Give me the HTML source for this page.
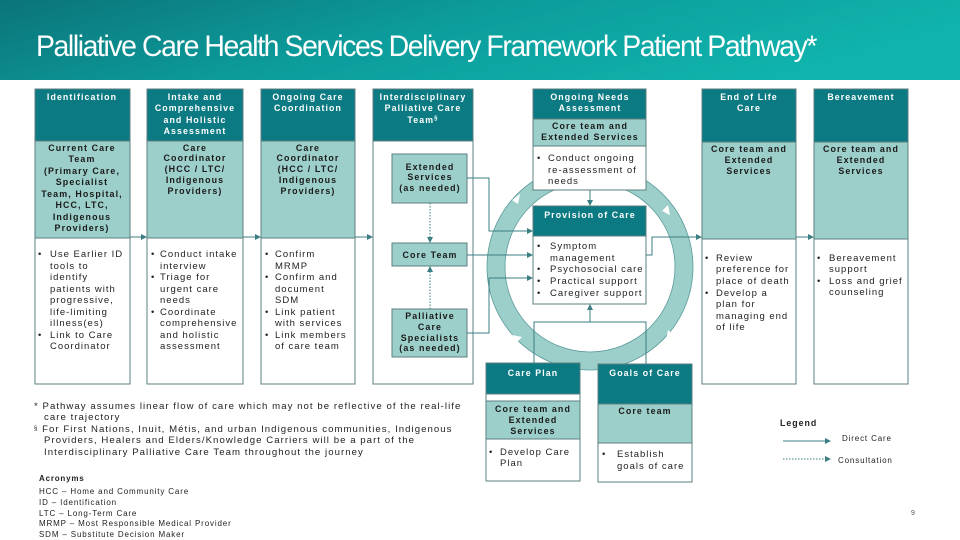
<!DOCTYPE html>
<html><head><meta charset="utf-8"><style>
html,body{margin:0;padding:0;width:960px;height:540px;overflow:hidden;background:#fff}
svg{display:block}
text{font-family:"Liberation Sans",Arial,sans-serif}
.h{fill:#fff;font-weight:bold;font-size:8.8px;letter-spacing:1.1px;text-anchor:middle}
.m{fill:#1a1a1a;font-weight:bold;font-size:8.9px;letter-spacing:1.1px;text-anchor:middle}
.b{fill:#222;font-size:9.5px;letter-spacing:1px}
.f{fill:#222;font-size:9.6px;letter-spacing:1.05px}
.a{fill:#222;font-size:8px;letter-spacing:0.85px}
</style></head><body>
<svg width="960" height="540" viewBox="0 0 960 540" xmlns="http://www.w3.org/2000/svg">
<defs>
<linearGradient id="g" x1="0" y1="0" x2="1" y2="0.3">
<stop offset="0" stop-color="#0b7479"/><stop offset="0.5" stop-color="#0c9c9c"/><stop offset="1" stop-color="#10b3ad"/>
</linearGradient>
<marker id="ar" markerWidth="6" markerHeight="6" refX="5" refY="3" orient="auto" markerUnits="userSpaceOnUse">
<path d="M0,0 L6,3 L0,6 z" fill="#3b7f84"/></marker>
</defs>
<rect x="0" y="0" width="960" height="80" fill="url(#g)"/>
<text x="36" y="56" fill="#fff" font-size="30" textLength="780" lengthAdjust="spacingAndGlyphs" style="letter-spacing:-1.5px">Palliative Care Health Services Delivery Framework Patient Pathway*</text>

<!-- ring -->
<circle cx="590" cy="267" r="94" fill="none" stroke="#9ccfc9" stroke-width="18"/>
<circle cx="590" cy="267" r="103" fill="none" stroke="#5a9a9a" stroke-width="0.8"/>
<circle cx="590" cy="267" r="85" fill="none" stroke="#5a9a9a" stroke-width="0.8"/>
<g fill="#fff">
<path d="M512,200 l8,-6 l-2,10 z"/><path d="M668,205 l2,10 l-8,-4 z"/>
<path d="M668,330 l-2,10 l8,-5 z"/><path d="M512,335 l10,2 l-6,6 z"/>
</g>

<g stroke="#5d7f80" stroke-width="1">
<rect x="35" y="89" width="95" height="52" fill="#0b7a82"/>
<rect x="35" y="141" width="95" height="97" fill="#9ccfc9"/>
<rect x="35" y="238" width="95" height="146" fill="#fff"/>
<rect x="147" y="89" width="96" height="52" fill="#0b7a82"/>
<rect x="147" y="141" width="96" height="97" fill="#9ccfc9"/>
<rect x="147" y="238" width="96" height="146" fill="#fff"/>
<rect x="261" y="89" width="94" height="52" fill="#0b7a82"/>
<rect x="261" y="141" width="94" height="97" fill="#9ccfc9"/>
<rect x="261" y="238" width="94" height="146" fill="#fff"/>
<rect x="373" y="89" width="100" height="52" fill="#0b7a82"/>
<rect x="373" y="141" width="100" height="243" fill="#fff"/>
<rect x="392" y="154" width="75" height="49" fill="#9ccfc9"/>
<rect x="392" y="243" width="75" height="23" fill="#9ccfc9"/>
<rect x="392" y="309" width="75" height="48" fill="#9ccfc9"/>
<rect x="533" y="89" width="113" height="30" fill="#0b7a82"/>
<rect x="533" y="119" width="113" height="27" fill="#9ccfc9"/>
<rect x="533" y="146" width="113" height="44" fill="#fff"/>
<rect x="533" y="206" width="113" height="30" fill="#0b7a82"/>
<rect x="533" y="236" width="113" height="68" fill="#fff"/>
<rect x="702" y="89" width="94" height="53" fill="#0b7a82"/>
<rect x="702" y="142" width="94" height="97" fill="#9ccfc9"/>
<rect x="702" y="239" width="94" height="145" fill="#fff"/>
<rect x="814" y="89" width="94" height="53" fill="#0b7a82"/>
<rect x="814" y="142" width="94" height="97" fill="#9ccfc9"/>
<rect x="814" y="239" width="94" height="145" fill="#fff"/>
<rect x="486" y="363" width="94" height="118" fill="#fff"/>
<rect x="486" y="363" width="94" height="31" fill="#0b7a82"/>
<rect x="486" y="401" width="94" height="38" fill="#9ccfc9"/>
<rect x="598" y="364" width="94" height="118" fill="#fff"/>
<rect x="598" y="364" width="94" height="40" fill="#0b7a82"/>
<rect x="598" y="404" width="94" height="39" fill="#9ccfc9"/>
</g>

<g stroke="#3b7f84" stroke-width="1" fill="none">
<line x1="130" y1="237" x2="146" y2="237" marker-end="url(#ar)"/>
<line x1="243" y1="237" x2="260" y2="237" marker-end="url(#ar)"/>
<line x1="355" y1="237" x2="372" y2="237" marker-end="url(#ar)"/>
<polyline points="467,178 489,178 489,231 532,231" marker-end="url(#ar)"/>
<line x1="467" y1="255" x2="532" y2="255" marker-end="url(#ar)"/>
<polyline points="467,333 489,333 489,278 532,278" marker-end="url(#ar)"/>
<polyline points="646,255 652,255 652,237 701,237" marker-end="url(#ar)"/>
<line x1="796" y1="237" x2="813" y2="237" marker-end="url(#ar)"/>
<line x1="590" y1="190" x2="590" y2="205" marker-end="url(#ar)"/>
<polyline points="534,363 534,322 646,322 646,364"/>
<line x1="590" y1="322" x2="590" y2="305" marker-end="url(#ar)"/>
<line x1="783" y1="441" x2="830" y2="441" marker-end="url(#ar)"/>
<line x1="783" y1="459" x2="830" y2="459" stroke-dasharray="1.5,1.5" marker-end="url(#ar)"/>
<line x1="430" y1="203" x2="430" y2="242" stroke-dasharray="1.5,1.5" marker-end="url(#ar)"/>
<line x1="430" y1="309" x2="430" y2="267" stroke-dasharray="1.5,1.5" marker-end="url(#ar)"/>
</g>

<text class="h" x="82" y="100">Identification</text>
<text class="h" x="195" y="100">Intake and</text><text class="h" x="195" y="111">Comprehensive</text><text class="h" x="195" y="123">and Holistic</text><text class="h" x="195" y="134">Assessment</text>
<text class="h" x="308" y="100">Ongoing Care</text><text class="h" x="308" y="111">Coordination</text>
<text class="h" x="423" y="100">Interdisciplinary</text><text class="h" x="423" y="111">Palliative Care</text><text class="h" x="423" y="123">Team<tspan font-size="6" dy="-3">§</tspan></text>
<text class="h" x="590" y="100">Ongoing Needs</text><text class="h" x="590" y="111">Assessment</text>
<text class="h" x="590" y="218">Provision of Care</text>
<text class="h" x="749" y="100">End of Life</text><text class="h" x="749" y="111">Care</text>
<text class="h" x="861" y="100">Bereavement</text>
<text class="h" x="533" y="376">Care Plan</text>
<text class="h" x="645" y="376">Goals of Care</text>

<g class="m">
<text x="82" y="151">Current Care</text><text x="82" y="162">Team</text><text x="82" y="174">(Primary Care,</text><text x="82" y="185">Specialist</text><text x="82" y="197">Team, Hospital,</text><text x="82" y="208">HCC, LTC,</text><text x="82" y="220">Indigenous</text><text x="82" y="231">Providers)</text>
<text x="195" y="151">Care</text><text x="195" y="161">Coordinator</text><text x="195" y="172">(HCC / LTC/</text><text x="195" y="183">Indigenous</text><text x="195" y="194">Providers)</text>
<text x="308" y="151">Care</text><text x="308" y="161">Coordinator</text><text x="308" y="172">(HCC / LTC/</text><text x="308" y="183">Indigenous</text><text x="308" y="194">Providers)</text>
<text x="430" y="170">Extended</text><text x="430" y="180">Services</text><text x="430" y="191">(as needed)</text>
<text x="430" y="258">Core Team</text>
<text x="430" y="319">Palliative</text><text x="430" y="330">Care</text><text x="430" y="341">Specialists</text><text x="430" y="351">(as needed)</text>
<text x="590" y="129">Core team and</text><text x="590" y="140">Extended Services</text>
<text x="749" y="152">Core team and</text><text x="749" y="163">Extended</text><text x="749" y="174">Services</text>
<text x="861" y="152">Core team and</text><text x="861" y="163">Extended</text><text x="861" y="174">Services</text>
<text x="533" y="412">Core team and</text><text x="533" y="423">Extended</text><text x="533" y="434">Services</text>
<text x="645" y="414">Core team</text>
</g>

<g class="b">
<text x="38" y="257">•</text><text x="50" y="257">Use Earlier ID</text><text x="50" y="269">tools to</text><text x="50" y="280">identify</text><text x="50" y="292">patients with</text><text x="50" y="303">progressive,</text><text x="50" y="315">life-limiting</text><text x="50" y="326">illness(es)</text>
<text x="38" y="338">•</text><text x="50" y="338">Link to Care</text><text x="50" y="349">Coordinator</text>
<text x="151" y="257">•</text><text x="160" y="257">Conduct intake</text><text x="160" y="269">interview</text>
<text x="151" y="280">•</text><text x="160" y="280">Triage for</text><text x="160" y="292">urgent care</text><text x="160" y="303">needs</text>
<text x="151" y="315">•</text><text x="160" y="315">Coordinate</text><text x="160" y="326">comprehensive</text><text x="160" y="338">and holistic</text><text x="160" y="349">assessment</text>
<text x="265" y="257">•</text><text x="275" y="257">Confirm</text><text x="275" y="269">MRMP</text>
<text x="265" y="280">•</text><text x="275" y="280">Confirm and</text><text x="275" y="292">document</text><text x="275" y="303">SDM</text>
<text x="265" y="315">•</text><text x="275" y="315">Link patient</text><text x="275" y="326">with services</text>
<text x="265" y="338">•</text><text x="275" y="338">Link members</text><text x="275" y="349">of care team</text>
<text x="537" y="161">•</text><text x="548" y="161">Conduct ongoing</text><text x="548" y="173">re-assessment of</text><text x="548" y="184">needs</text>
<text x="537" y="249">•</text><text x="550" y="249">Symptom</text><text x="550" y="261">management</text>
<text x="537" y="272">•</text><text x="550" y="272">Psychosocial care</text>
<text x="537" y="284">•</text><text x="550" y="284">Practical support</text>
<text x="537" y="296">•</text><text x="550" y="296">Caregiver support</text>
<text x="705" y="261">•</text><text x="716" y="261">Review</text><text x="716" y="272">preference for</text><text x="716" y="284">place of death</text>
<text x="705" y="296">•</text><text x="716" y="296">Develop a</text><text x="716" y="307">plan for</text><text x="716" y="319">managing end</text><text x="716" y="330">of life</text>
<text x="817" y="261">•</text><text x="829" y="261">Bereavement</text><text x="829" y="272">support</text>
<text x="817" y="284">•</text><text x="829" y="284">Loss and grief</text><text x="829" y="295">counseling</text>
<text x="489" y="455">•</text><text x="500" y="455">Develop Care</text><text x="500" y="466">Plan</text>
<text x="602" y="457">•</text><text x="617" y="457">Establish</text><text x="617" y="469">goals of care</text>
</g>

<text x="780" y="426" font-size="8.8" font-weight="bold" letter-spacing="1" fill="#222">Legend</text>
<text x="842" y="441" class="a" font-size="8.4">Direct Care</text>
<text x="838" y="463" class="a" font-size="8.4">Consultation</text>
<text x="911" y="515" font-size="7" fill="#555">9</text>

<g class="f">
<text x="34" y="409">* Pathway assumes linear flow of care which may not be reflective of the real-life</text>
<text x="44" y="420">care trajectory</text>
<text x="34" y="432"><tspan font-size="6" dy="-2">§</tspan><tspan dy="2"> For First Nations, Inuit, Métis, and urban Indigenous communities, Indigenous</tspan></text>
<text x="44" y="443">Providers, Healers and Elders/Knowledge Carriers will be a part of the</text>
<text x="44" y="455">Interdisciplinary Palliative Care Team throughout the journey</text>
</g>
<text x="39" y="481" font-size="8" font-weight="bold" letter-spacing="0.8" fill="#222">Acronyms</text>
<g class="a">
<text x="39" y="494">HCC – Home and Community Care</text>
<text x="39" y="505">ID – Identification</text>
<text x="39" y="516">LTC – Long-Term Care</text>
<text x="39" y="526">MRMP – Most Responsible Medical Provider</text>
<text x="39" y="537">SDM – Substitute Decision Maker</text>
</g>
</svg>
</body></html>
